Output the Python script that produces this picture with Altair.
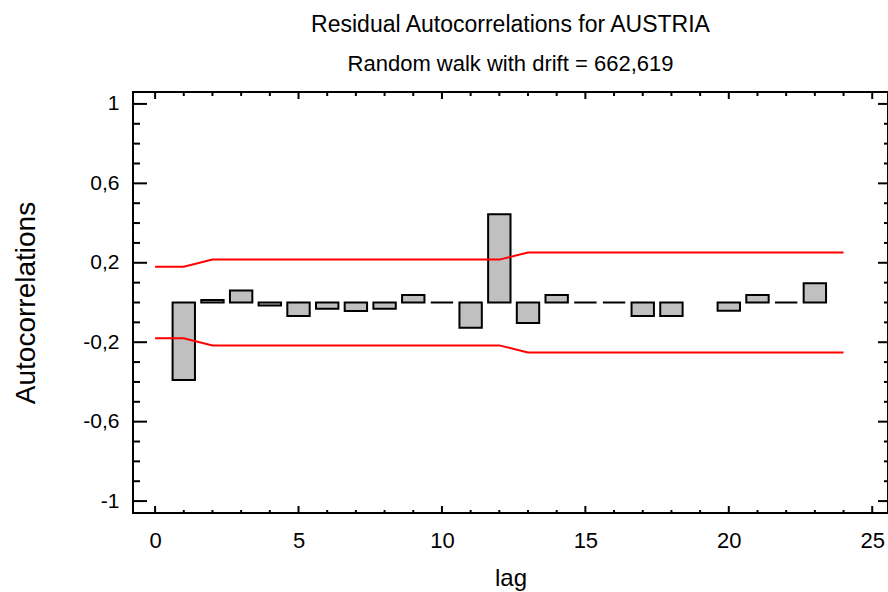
import altair as alt
import pandas as pd

# Residual autocorrelations by lag (lag 19 has no estimate)
lags = [1, 2, 3, 4, 5, 6, 7, 8, 9, 10, 11, 12, 13, 14, 15, 16, 17, 18, 19, 20, 21, 22, 23]
acf = [-0.39, 0.012, 0.061, -0.015, -0.068, -0.031, -0.043, -0.031, 0.038, 0.0,
       -0.127, 0.444, -0.103, 0.038, 0.0, 0.0, -0.068, -0.068, None, -0.041,
       0.038, 0.0, 0.097]

# 95% probability limits
limit_lags = [0, 1, 2, 3, 4, 5, 6, 7, 8, 9, 10, 11, 12, 13, 14, 15, 16, 17, 18, 19, 20, 21, 22, 23, 24]
upper_limit = [0.18, 0.18, 0.216, 0.216, 0.216, 0.216, 0.216, 0.216, 0.216, 0.216, 0.216, 0.216, 0.216,
               0.252, 0.252, 0.252, 0.252, 0.252, 0.252, 0.252, 0.252, 0.252, 0.252, 0.252, 0.252]
lower_limit = [-0.18, -0.18, -0.216, -0.216, -0.216, -0.216, -0.216, -0.216, -0.216, -0.216, -0.216, -0.216, -0.216,
               -0.252, -0.252, -0.252, -0.252, -0.252, -0.252, -0.252, -0.252, -0.252, -0.252, -0.252, -0.252]

# Axis tick positions
x_major = [0, 5, 10, 15, 20, 25]
x_minor = [1, 2, 3, 4, 6, 7, 8, 9, 11, 12, 13, 14, 16, 17, 18, 19, 21, 22, 23, 24]
y_major = [-1, -0.6, -0.2, 0.2, 0.6, 1]
y_minor = [-0.9, -0.8, -0.7, -0.5, -0.4, -0.3, -0.1, 0.0, 0.1, 0.3, 0.4, 0.5, 0.7, 0.8, 0.9]

FONT = "Liberation Sans"
W, H = 755, 421
HALF_BAR = 0.39

acf_df = pd.DataFrame({"lag": lags, "acf": acf})
limit_df = pd.concat([
    pd.DataFrame({"lag": limit_lags, "limit": upper_limit, "side": "upper"}),
    pd.DataFrame({"lag": limit_lags, "limit": lower_limit, "side": "lower"}),
])

xs = alt.Scale(domain=[-0.77, 25.55], nice=False, zero=False)
ys = alt.Scale(domain=[-1.06, 1.06], nice=False, zero=False)

# Shared axis definitions (labels only; ticks are drawn inward as rules below)
x_axis = alt.Axis(values=x_major, ticks=False, domain=False, grid=False,
                  labelFont=FONT, labelFontSize=22, labelColor="black",
                  labelPadding=17, labelFlush=False,
                  titleFont=FONT, titleFontSize=24, titleFontWeight="normal",
                  titleColor="black", titleY=72, titleBaseline="alphabetic")
y_axis = alt.Axis(values=y_major, ticks=False, domain=False, grid=False,
                  labelExpr="replace(toString(datum.value), '.', ',')",
                  labelFont=FONT, labelFontSize=21, labelColor="black",
                  labelPadding=14, labelFlush=False,
                  titleFont=FONT, titleFontSize=28, titleFontWeight="normal",
                  titleColor="black", titleAngle=270, titleAlign="center",
                  titleBaseline="alphabetic", titleX=-99, titleY=H / 2)
X_TITLE = "lag"
Y_TITLE = "Autocorrelations"

bars = (
    alt.Chart(acf_df)
    .transform_filter("isValid(datum.acf)")
    .transform_calculate(x0=f"datum.lag - {HALF_BAR}", x1=f"datum.lag + {HALF_BAR}")
    .mark_rect(fill="#C0C0C0", stroke="black", strokeWidth=2)
    .encode(
        x=alt.X("x0:Q", scale=xs, title=X_TITLE, axis=x_axis),
        x2="x1:Q",
        y=alt.Y("acf:Q", scale=ys, title=Y_TITLE, axis=y_axis),
        y2=alt.datum(0),
    )
)

limits = (
    alt.Chart(limit_df)
    .mark_line(color="#FF0000", strokeWidth=2)
    .encode(
        x=alt.X("lag:Q", scale=xs, title=X_TITLE, axis=x_axis),
        y=alt.Y("limit:Q", scale=ys, title=Y_TITLE, axis=y_axis),
        detail="side:N",
    )
)


def y_ticks(values, x_from, x_to):
    return (
        alt.Chart(pd.DataFrame({"v": values}))
        .mark_rule(color="black", strokeWidth=2)
        .encode(y=alt.Y("v:Q", scale=ys, title=Y_TITLE, axis=y_axis),
                x=alt.value(x_from), x2=alt.value(x_to))
    )


def x_ticks(values, y_from, y_to):
    return (
        alt.Chart(pd.DataFrame({"v": values}))
        .mark_rule(color="black", strokeWidth=2)
        .encode(x=alt.X("v:Q", scale=xs, title=X_TITLE, axis=x_axis),
                y=alt.value(y_from), y2=alt.value(y_to))
    )


ticks = [
    y_ticks(y_major, 0, 14), y_ticks(y_minor, 0, 7),
    y_ticks(y_major, W - 10, W), y_ticks(y_minor, W - 4, W),
    x_ticks(x_major, H - 7, H), x_ticks(x_minor, H - 3, H),
    x_ticks(x_major, 0, 7), x_ticks(x_minor, 0, 4),
]

chart = (
    alt.layer(bars, limits, *ticks)
    .properties(
        width=W,
        height=H,
        autosize=alt.AutoSizeParams(type="none"),
        padding={"left": 133, "top": 92, "right": 0, "bottom": 79},
        background="white",
        title=alt.TitleParams(
            text="Residual Autocorrelations for AUSTRIA",
            subtitle="Random walk with drift = 662,619",
            font=FONT, fontSize=23, fontWeight="normal", color="black",
            subtitleFont=FONT, subtitleFontSize=22, subtitleColor="black",
            subtitlePadding=17, anchor="middle", offset=16,
        ),
    )
    .configure_view(stroke="black", strokeWidth=2)
)

chart.save("out.html", embed_options={"renderer": "svg", "actions": False})
